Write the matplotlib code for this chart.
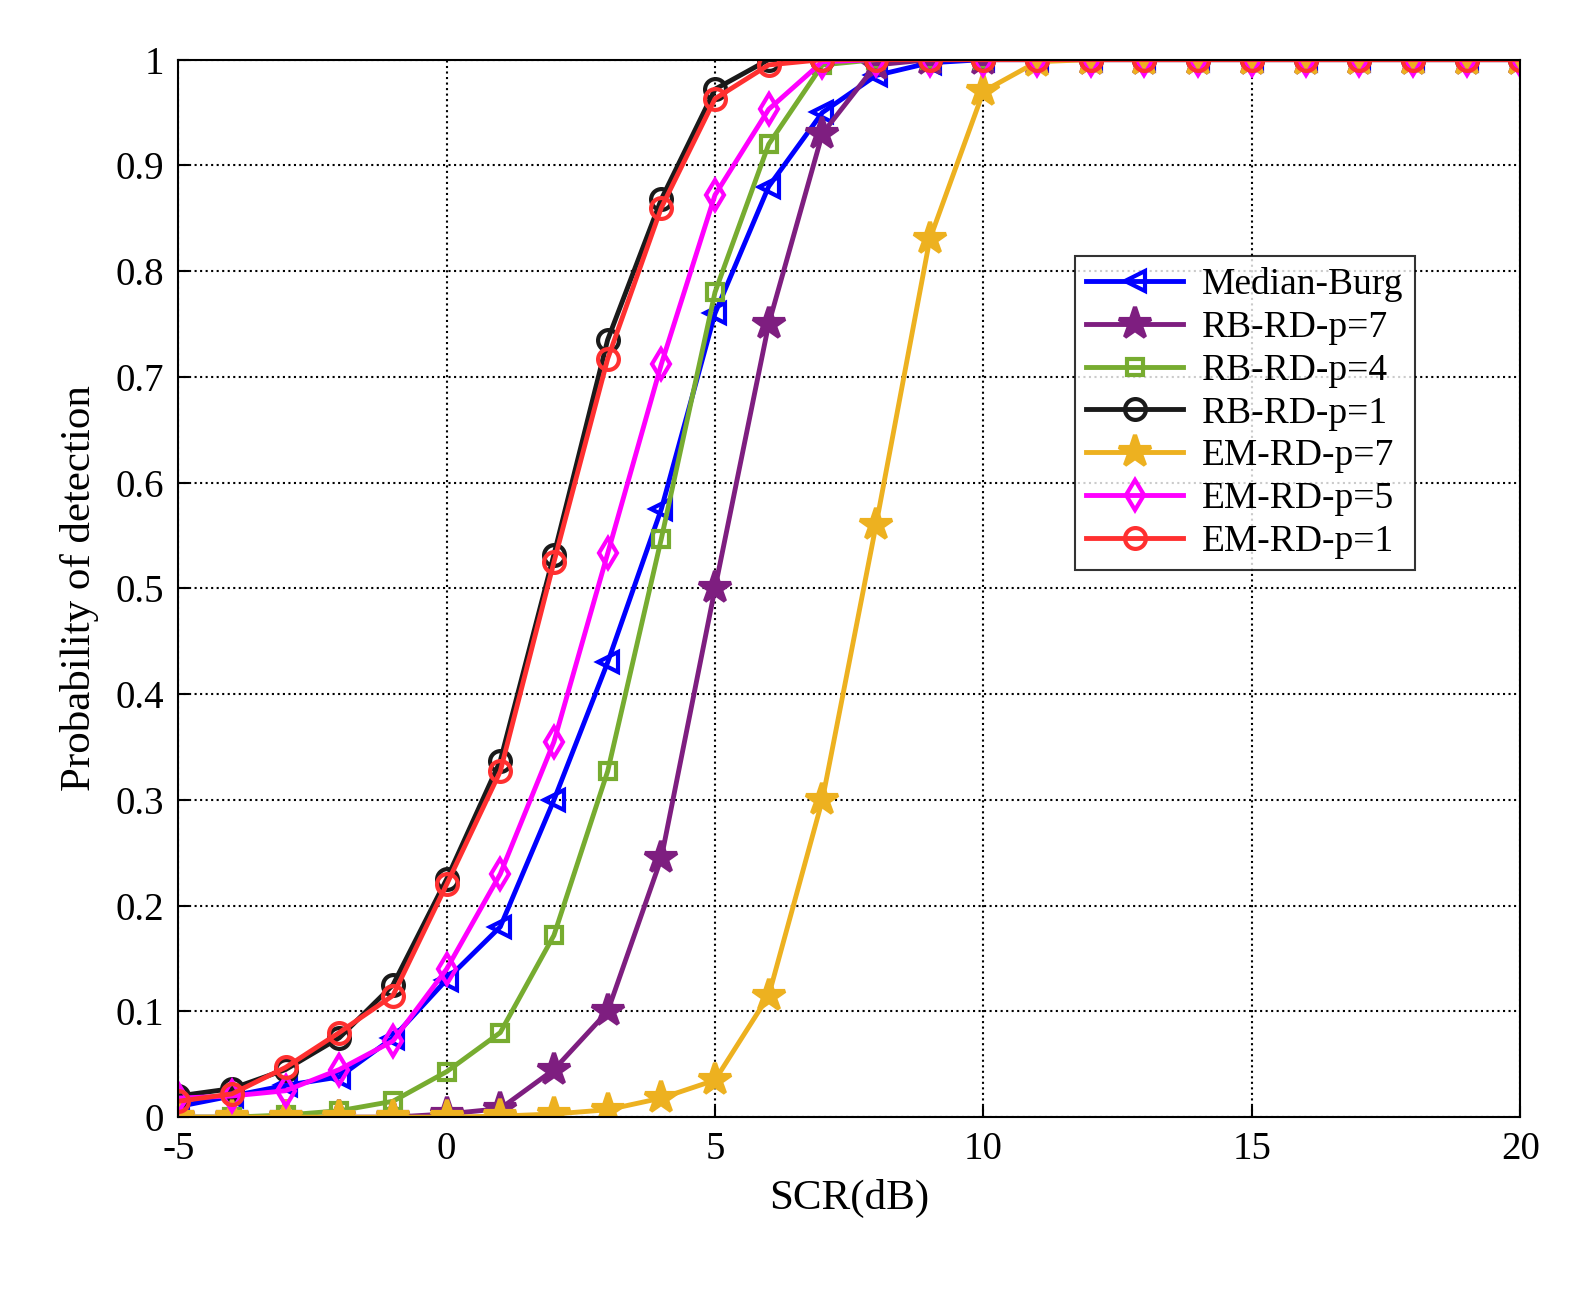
import matplotlib
matplotlib.use("Agg")
import matplotlib.pyplot as plt

plt.rcParams['font.family'] = ['Liberation Serif', 'DejaVu Serif']
plt.rcParams['axes.unicode_minus'] = False

x = list(range(-5, 21))
median_burg = [0.01,0.02,0.03,0.038,0.075,0.13,0.18,0.30,0.43,0.575,0.76,0.88,0.95,0.985,0.997] + [1.0]*11
rb7 = [0,0,0,0,0,0.003,0.008,0.045,0.10,0.245,0.50,0.75,0.93,0.995] + [1.0]*12
rb4 = [0,0,0.002,0.006,0.015,0.043,0.08,0.172,0.327,0.547,0.78,0.92,0.995] + [1.0]*13
rb1 = [0.02,0.027,0.045,0.075,0.125,0.225,0.337,0.532,0.735,0.868,0.972,1.0] + [1.0]*14
em7 = [0,0,0,0,0,0,0.001,0.003,0.007,0.018,0.035,0.115,0.30,0.56,0.83,0.97,0.998] + [1.0]*9
em5 = [0.018,0.02,0.025,0.045,0.072,0.14,0.23,0.355,0.533,0.712,0.872,0.953,0.998] + [1.0]*13
em1 = [0.015,0.022,0.047,0.08,0.115,0.22,0.327,0.525,0.717,0.86,0.963,0.995] + [1.0]*14

series = [
    ("Median-Burg", median_burg, "#0000ff", "<", "none"),
    ("RB-RD-p=7", rb7, "#7e1e80", "*", "#7e1e80"),
    ("RB-RD-p=4", rb4, "#77ac30", "s", "none"),
    ("RB-RD-p=1", rb1, "#1a1a1a", "o", "none"),
    ("EM-RD-p=7", em7, "#edb120", "*", "#edb120"),
    ("EM-RD-p=5", em5, "#ff00ff", "d", "none"),
    ("EM-RD-p=1", em1, "#ff3030", "o", "none"),
]

fig = plt.figure(figsize=(15.77, 12.96), dpi=100)
ax = fig.add_axes([0.113, 0.138, 0.851, 0.816])
for name, y, c, m, fc in series:
    ms = 24 if m == "*" else (12 if m == "s" else 15)
    ax.plot(x, y, color=c, marker=m, markersize=ms, markerfacecolor=fc,
            markeredgewidth=3, linewidth=3.5, label=name)

ax.set_xlim(-5, 20)
ax.set_ylim(0, 1)
ax.set_xticks([-5, 0, 5, 10, 15, 20])
ax.set_yticks([i/10 for i in range(11)])
ax.set_yticklabels(["0"] + [f"{i/10:g}" for i in range(1, 10)] + ["1"])
ax.grid(True, linestyle=':', color='black', linewidth=1.5)
ax.tick_params(labelsize=28, direction='in', length=8, width=1.5, pad=10)
for s in ax.spines.values():
    s.set_linewidth(1.5)
ax.set_xlabel("SCR(dB)", fontsize=31, labelpad=8)
ax.set_ylabel("Probability of detection", fontsize=31, labelpad=12)
leg = ax.legend(loc='upper left', bbox_to_anchor=(0.654, 0.832), fontsize=27,
                frameon=True, fancybox=False, edgecolor='black', handlelength=2.6,
                labelspacing=0.22, borderpad=0.3, handletextpad=0.5)
leg.get_frame().set_linewidth(1.5)
fig.savefig("out.png", dpi=100)
